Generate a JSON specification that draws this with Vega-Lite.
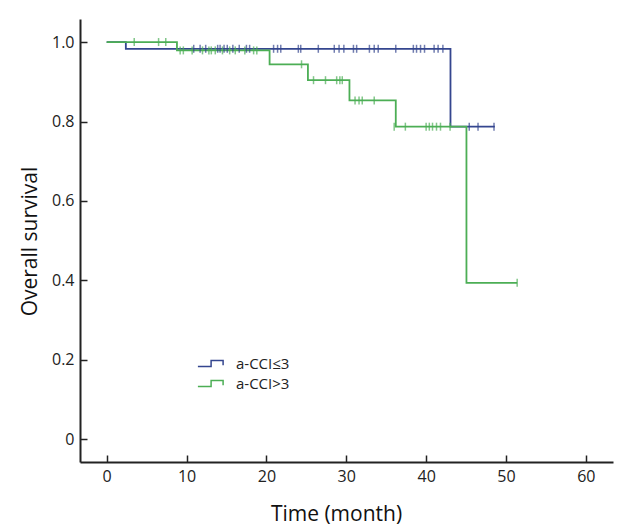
{
  "$schema": "https://vega.github.io/schema/vega-lite/v6.json",
  "autosize": {"type": "none"},
  "padding": {"left": 80, "top": 19, "right": 17, "bottom": 68},
  "width": 533,
  "height": 443,
  "background": "white",
  "config": {
    "font": "Open Sans",
    "view": {"stroke": null},
    "axis": {
      "grid": false,
      "domainColor": "#222",
      "domainWidth": 2,
      "tickColor": "#222",
      "tickWidth": 1.5,
      "tickSize": -7,
      "labelColor": "#222",
      "labelFontSize": 16,
      "titleColor": "#111",
      "titleFontSize": 21,
      "titleFontWeight": "normal"
    }
  },
  "datasets": {
    "curve": [
      {"group": "a-CCI≤3", "month": 0, "survival": 1.0},
      {"group": "a-CCI≤3", "month": 2.4, "survival": 0.983},
      {"group": "a-CCI≤3", "month": 43.05, "survival": 0.787},
      {"group": "a-CCI≤3", "month": 48.6, "survival": 0.787},
      {"group": "a-CCI>3", "month": 0, "survival": 1.0},
      {"group": "a-CCI>3", "month": 8.8, "survival": 0.979},
      {"group": "a-CCI>3", "month": 20.4, "survival": 0.944},
      {"group": "a-CCI>3", "month": 25.2, "survival": 0.904},
      {"group": "a-CCI>3", "month": 30.4, "survival": 0.853},
      {"group": "a-CCI>3", "month": 36.2, "survival": 0.787},
      {"group": "a-CCI>3", "month": 45.05, "survival": 0.394},
      {"group": "a-CCI>3", "month": 51.4, "survival": 0.394}
    ],
    "censor": [
      {"group": "a-CCI>3", "month": 3.45, "survival": 1.0},
      {"group": "a-CCI>3", "month": 6.5, "survival": 1.0},
      {"group": "a-CCI>3", "month": 7.4, "survival": 1.0},
      {"group": "a-CCI>3", "month": 9.2, "survival": 0.979},
      {"group": "a-CCI>3", "month": 9.6, "survival": 0.979},
      {"group": "a-CCI>3", "month": 10.7, "survival": 0.979},
      {"group": "a-CCI>3", "month": 12.0, "survival": 0.979},
      {"group": "a-CCI>3", "month": 12.8, "survival": 0.979},
      {"group": "a-CCI>3", "month": 13.1, "survival": 0.979},
      {"group": "a-CCI>3", "month": 13.6, "survival": 0.979},
      {"group": "a-CCI>3", "month": 14.5, "survival": 0.979},
      {"group": "a-CCI>3", "month": 15.4, "survival": 0.979},
      {"group": "a-CCI>3", "month": 16.1, "survival": 0.979},
      {"group": "a-CCI>3", "month": 17.3, "survival": 0.979},
      {"group": "a-CCI>3", "month": 18.4, "survival": 0.979},
      {"group": "a-CCI>3", "month": 18.8, "survival": 0.979},
      {"group": "a-CCI≤3", "month": 10.9, "survival": 0.983},
      {"group": "a-CCI≤3", "month": 11.7, "survival": 0.983},
      {"group": "a-CCI≤3", "month": 12.4, "survival": 0.983},
      {"group": "a-CCI≤3", "month": 13.9, "survival": 0.983},
      {"group": "a-CCI≤3", "month": 14.2, "survival": 0.983},
      {"group": "a-CCI≤3", "month": 14.7, "survival": 0.983},
      {"group": "a-CCI≤3", "month": 15.1, "survival": 0.983},
      {"group": "a-CCI≤3", "month": 15.8, "survival": 0.983},
      {"group": "a-CCI≤3", "month": 16.6, "survival": 0.983},
      {"group": "a-CCI≤3", "month": 17.5, "survival": 0.983},
      {"group": "a-CCI≤3", "month": 17.9, "survival": 0.983},
      {"group": "a-CCI≤3", "month": 20.9, "survival": 0.983},
      {"group": "a-CCI≤3", "month": 21.4, "survival": 0.983},
      {"group": "a-CCI≤3", "month": 21.8, "survival": 0.983},
      {"group": "a-CCI≤3", "month": 24.0, "survival": 0.983},
      {"group": "a-CCI≤3", "month": 24.3, "survival": 0.983},
      {"group": "a-CCI≤3", "month": 26.5, "survival": 0.983},
      {"group": "a-CCI≤3", "month": 28.5, "survival": 0.983},
      {"group": "a-CCI≤3", "month": 29.1, "survival": 0.983},
      {"group": "a-CCI≤3", "month": 29.7, "survival": 0.983},
      {"group": "a-CCI≤3", "month": 30.9, "survival": 0.983},
      {"group": "a-CCI≤3", "month": 31.3, "survival": 0.983},
      {"group": "a-CCI≤3", "month": 32.9, "survival": 0.983},
      {"group": "a-CCI≤3", "month": 33.5, "survival": 0.983},
      {"group": "a-CCI≤3", "month": 34.0, "survival": 0.983},
      {"group": "a-CCI≤3", "month": 36.2, "survival": 0.983},
      {"group": "a-CCI≤3", "month": 38.4, "survival": 0.983},
      {"group": "a-CCI≤3", "month": 38.8, "survival": 0.983},
      {"group": "a-CCI≤3", "month": 39.3, "survival": 0.983},
      {"group": "a-CCI≤3", "month": 39.8, "survival": 0.983},
      {"group": "a-CCI≤3", "month": 41.0, "survival": 0.983},
      {"group": "a-CCI≤3", "month": 41.5, "survival": 0.983},
      {"group": "a-CCI≤3", "month": 42.1, "survival": 0.983},
      {"group": "a-CCI>3", "month": 24.4, "survival": 0.944},
      {"group": "a-CCI>3", "month": 25.9, "survival": 0.904},
      {"group": "a-CCI>3", "month": 27.4, "survival": 0.904},
      {"group": "a-CCI>3", "month": 28.8, "survival": 0.904},
      {"group": "a-CCI>3", "month": 29.2, "survival": 0.904},
      {"group": "a-CCI>3", "month": 29.5, "survival": 0.904},
      {"group": "a-CCI>3", "month": 31.1, "survival": 0.853},
      {"group": "a-CCI>3", "month": 31.6, "survival": 0.853},
      {"group": "a-CCI>3", "month": 32.0, "survival": 0.853},
      {"group": "a-CCI>3", "month": 33.5, "survival": 0.853},
      {"group": "a-CCI>3", "month": 36.0, "survival": 0.787},
      {"group": "a-CCI>3", "month": 37.4, "survival": 0.787},
      {"group": "a-CCI>3", "month": 40.0, "survival": 0.787},
      {"group": "a-CCI>3", "month": 40.4, "survival": 0.787},
      {"group": "a-CCI>3", "month": 40.8, "survival": 0.787},
      {"group": "a-CCI>3", "month": 41.3, "survival": 0.787},
      {"group": "a-CCI>3", "month": 41.8, "survival": 0.787},
      {"group": "a-CCI>3", "month": 43.0, "survival": 0.787},
      {"group": "a-CCI≤3", "month": 45.4, "survival": 0.787},
      {"group": "a-CCI≤3", "month": 46.5, "survival": 0.787},
      {"group": "a-CCI≤3", "month": 48.5, "survival": 0.787},
      {"group": "a-CCI>3", "month": 51.4, "survival": 0.394}
    ]
  },
  "encoding": {
    "x": {
      "field": "month",
      "type": "quantitative",
      "title": "Time (month)",
      "scale": {"domain": [-3.34, 63.4], "nice": false, "zero": false},
      "axis": {
        "values": [0, 10, 20, 30, 40, 50, 60],
        "labelPadding": 13,
        "titleX": 256,
        "titleY": 58,
        "titleBaseline": "alphabetic"
      }
    },
    "y": {
      "field": "survival",
      "type": "quantitative",
      "title": "Overall survival",
      "scale": {"domain": [-0.057, 1.058], "nice": false, "zero": false},
      "axis": {
        "values": [0, 0.2, 0.4, 0.6, 0.8, 1.0],
        "labelExpr": "datum.value == 0 ? '0' : format(datum.value, '.1f')",
        "labelPadding": 13,
        "titleX": -44,
        "titleY": 222,
        "titleBaseline": "alphabetic"
      }
    },
    "color": {
      "field": "group",
      "type": "nominal",
      "scale": {"domain": ["a-CCI≤3", "a-CCI>3"], "range": ["#34468f", "#4cae55"]}
    }
  },
  "layer": [
    {
      "data": {"name": "curve"},
      "mark": {"type": "line", "interpolate": "step-after", "strokeWidth": 1.8},
      "encoding": {
        "color": {
          "field": "group",
          "type": "nominal",
          "scale": {"domain": ["a-CCI≤3", "a-CCI>3"], "range": ["#34468f", "#4cae55"]},
          "legend": {
            "title": null,
            "orient": "none",
            "legendX": 123,
            "legendY": 337,
            "padding": 0,
            "symbolType": "M-2.1,0.5H0.1V-0.5H2.1V0.3",
            "symbolSize": 144,
            "symbolStrokeWidth": 1.5,
            "labelFontSize": 15,
            "labelColor": "#222",
            "labelOffset": 18,
            "rowPadding": 4,
            "encode": {
              "symbols": {"update": {"fill": {"value": "transparent"}, "fillOpacity": {"value": 0}}}
            }
          }
        }
      }
    },
    {
      "data": {"name": "censor"},
      "mark": {"type": "tick", "orient": "vertical", "size": 8, "thickness": 1.5},
      "encoding": {
        "color": {"field": "group", "type": "nominal", "legend": null}
      }
    }
  ]
}
